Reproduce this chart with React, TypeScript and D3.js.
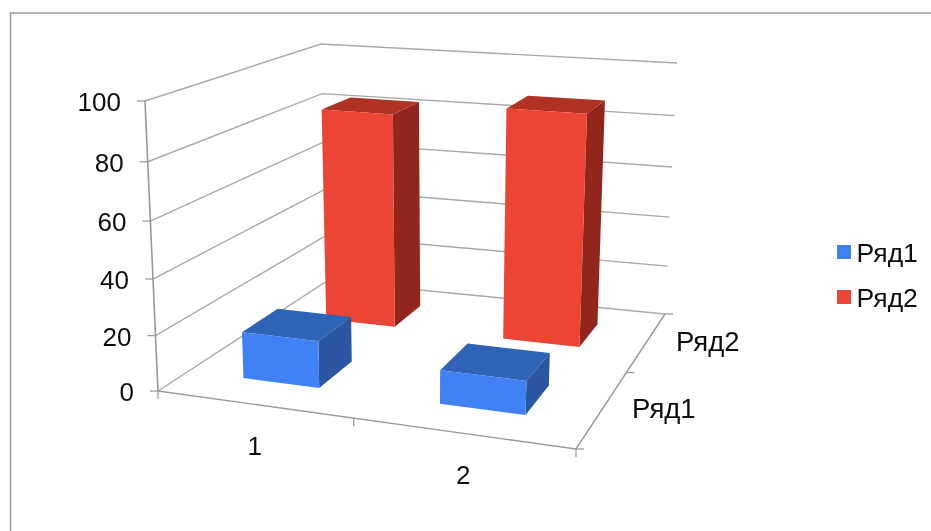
import React from "react";
import * as d3 from "d3";

// ---- data ----
const categories = ["1", "2"];
const seriesNames = ["Ряд1", "Ряд2"];
const ryad1Values = [17, 12];
const ryad2Values = [83, 88];
const valueTicks = [0, 20, 40, 60, 80, 100];

const seriesColors = [
  { front: "#3f82f5", top: "#2f63b5", side: "#2a56a2" },
  { front: "#ec4435", top: "#b03022", side: "#93281e" },
];

type Pt = [number, number];

// frame of the 3D box, as four corners on the floor and four at the value 100
const floorCorners: [Pt, Pt, Pt, Pt] = [[158, 391], [576, 449], [665, 314], [327, 281]];
const roofCorners: [Pt, Pt, Pt, Pt] = [[145, 101], [589, 135], [677, 63], [321, 44]];

function quadMap(q: [Pt, Pt, Pt, Pt]) {
  const [p0, p1, p2, p3] = q;
  const sx = p0[0] - p1[0] + p2[0] - p3[0];
  const sy = p0[1] - p1[1] + p2[1] - p3[1];
  const dx1 = p1[0] - p2[0], dx2 = p3[0] - p2[0];
  const dy1 = p1[1] - p2[1], dy2 = p3[1] - p2[1];
  const det = dx1 * dy2 - dx2 * dy1;
  const g = (sx * dy2 - dx2 * sy) / det;
  const h = (dx1 * sy - sx * dy1) / det;
  return (u: number, v: number): Pt => {
    const den = 1 + g * u + h * v;
    return [
      (p0[0] + (p1[0] * (1 + g) - p0[0]) * u + (p3[0] * (1 + h) - p0[0]) * v) / den,
      (p0[1] + (p1[1] * (1 + g) - p0[1]) * u + (p3[1] * (1 + h) - p0[1]) * v) / den,
    ];
  };
}

const floorMap = quadMap(floorCorners);
const roofMap = quadMap(roofCorners);

const uScale = d3.scaleLinear().domain([0, categories.length]).range([0, 1]);
const vScale = d3.scaleLinear().domain([0, seriesNames.length]).range([0, 1]);
const wScale = d3.scaleLinear().domain([0, 100]).range([0, 1]);

const depthBend = 0.06;
function project(cat: number, ser: number, value: number): Pt {
  const u = uScale(cat), v = vScale(ser), w = wScale(value);
  const t = w / (1 + depthBend - depthBend * w);
  const a = floorMap(u, v), b = roofMap(u, v);
  return [a[0] + (b[0] - a[0]) * t, a[1] + (b[1] - a[1]) * t];
}

const pathOf = d3.line<Pt>().x(d => d[0]).y(d => d[1]);
const poly = (pts: Pt[]) => (pathOf(pts) ?? "") + "Z";

const GRID = "#a9a9a9";
const AXIS = "#999999";
const FONT = "'Liberation Sans', Arial, sans-serif";
const barPad = 0.3; // gap on each side of a bar, in category units

function Bar({ cat, ser, value }: { cat: number; ser: number; value: number }) {
  const u0 = cat + barPad, u1 = cat + 1 - barPad;
  const v0 = ser + barPad, v1 = ser + 1 - barPad;
  const c = seriesColors[ser];
  const p = (u: number, v: number, w: number) => project(u, v, w);
  return (
    <g>
      <path d={poly([p(u0, v0, value), p(u1, v0, value), p(u1, v1, value), p(u0, v1, value)])} fill={c.top} />
      <path d={poly([p(u1, v0, 0), p(u1, v1, 0), p(u1, v1, value), p(u1, v0, value)])} fill={c.side} />
      <path d={poly([p(u0, v0, 0), p(u1, v0, 0), p(u1, v0, value), p(u0, v0, value)])} fill={c.front} />
    </g>
  );
}

export default function App() {
  const nC = categories.length, nS = seriesNames.length;
  const seriesValues = [ryad1Values, ryad2Values];
  const line = (pts: Pt[], key: string, color = GRID, w = 1.4) => (
    <path key={key} d={pathOf(pts) ?? ""} fill="none" stroke={color} strokeWidth={w} />
  );
  return (
    <svg width={931} height={531} style={{ position: "fixed", left: 0, top: 0, background: "#fff" }}>
      <defs>
        <filter id="soft" x="-5%" y="-5%" width="110%" height="110%">
          <feGaussianBlur stdDeviation="0.45" />
        </filter>
      </defs>
      <g filter="url(#soft)">
        <rect x={10.5} y={13} width={960} height={560} fill="#fff" stroke="#999" strokeWidth={1.5} />

        {/* walls */}
        {valueTicks.map(t =>
          line([project(0, 0, t), project(0, nS, t), project(nC, nS, t)], `grid${t}`)
        )}
        {line([project(0, 0, 0), project(nC, 0, 0), project(nC, nS, 0)], "floor", AXIS)}
        {line([project(0, 0, 0), project(0, 0, 100)], "valueAxis", AXIS, 1.6)}

        {/* value axis */}
        {valueTicks.map(t => {
          const [x, y] = project(0, 0, t);
          return (
            <g key={t}>
              <line x1={x - 8} x2={x} y1={y} y2={y} stroke={AXIS} strokeWidth={1.2} />
              <text x={x - 24} y={y + 10} textAnchor="end" fontFamily={FONT} fontSize={26} fill="#111">{t}</text>
            </g>
          );
        })}

        {/* category axis */}
        {d3.range(nC + 1).map(i => {
          const [x, y] = project(i, 0, 0);
          return <line key={i} x1={x} x2={x} y1={y} y2={y + 8} stroke={AXIS} strokeWidth={1.2} />;
        })}
        {categories.map((c, i) => {
          const [x, y] = project(i + 0.5, 0, 0);
          return (
            <text key={c} x={x} y={y + 51} textAnchor="middle" fontFamily={FONT} fontSize={26} fill="#111"
              dx={i === 0 ? 2 : 2}>{c}</text>
          );
        })}

        {/* series axis */}
        {d3.range(nS + 1).map(i => {
          const [x, y] = project(nC, i, 0);
          return <line key={i} x1={x} x2={x + 8} y1={y} y2={y} stroke={AXIS} strokeWidth={1.2} />;
        })}
        {seriesNames.map((s, i) => {
          const [x, y] = project(nC, i + 0.5, 0);
          return (
            <text key={s} x={x + 29} y={y + 10} fontFamily={FONT} fontSize={27.5} fill="#111">{s}</text>
          );
        })}

        {/* bars, back row first */}
        {d3.range(nS).reverse().map(s =>
          d3.range(nC).map(c => <Bar key={`${s}-${c}`} cat={c} ser={s} value={seriesValues[s][c]} />)
        )}

        {/* legend */}
        {seriesNames.map((s, i) => (
          <g key={s} transform={`translate(837,${245 + i * 45})`}>
            <rect width={14} height={14} fill={seriesColors[i].front} />
            <text x={19.5} y={16.5} fontFamily={FONT} fontSize={26.5} fill="#111">{s}</text>
          </g>
        ))}
      </g>
    </svg>
  );
}
